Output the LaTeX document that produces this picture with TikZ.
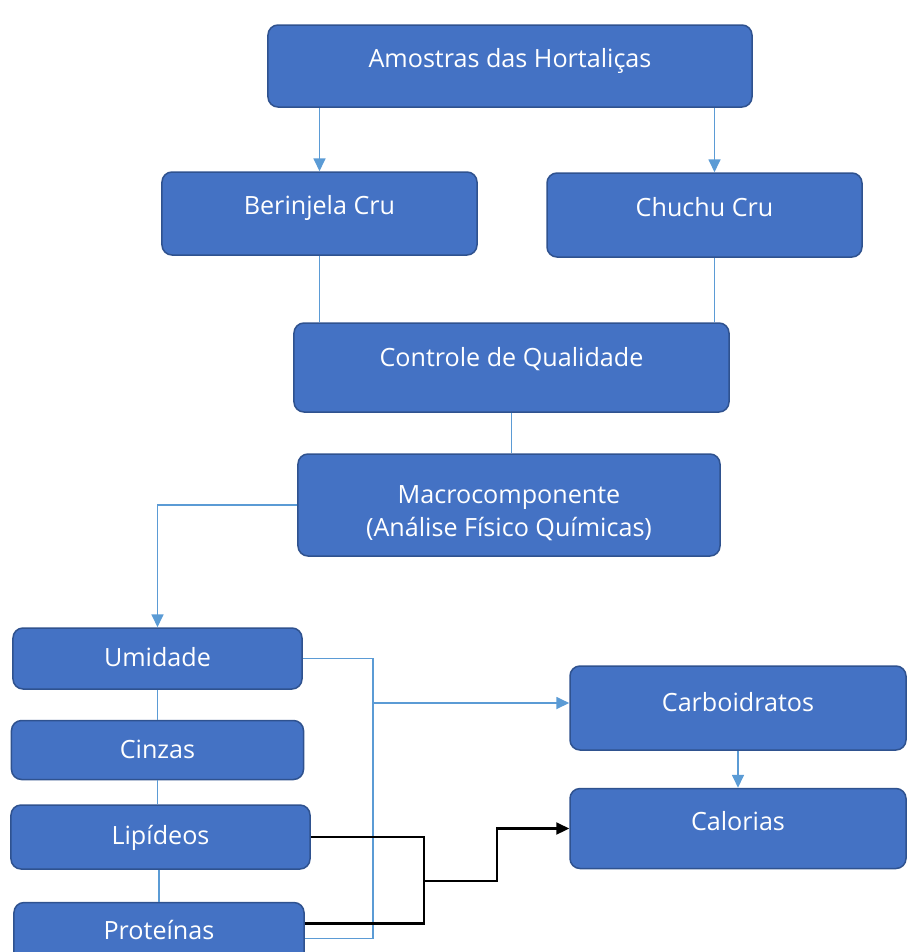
\documentclass[tikz,border=0pt]{standalone}
\usepackage{fontspec}
\setmainfont{Open Sans}
\usetikzlibrary{positioning, arrows.meta}
\definecolor{boxblue}{HTML}{4472C4}
\definecolor{boxline}{HTML}{2F528F}
\definecolor{linkblue}{HTML}{5B9BD5}

\begin{document}
\begin{tikzpicture}[x=0.2mm, y=-0.2mm,
     node distance = 6mm and 6mm,
                 > = {Triangle[length=2.6mm,width=2.4mm]},
        box/.style = {rectangle, rounded corners=2mm, draw=boxline, line width=0.3mm,
                      fill=boxblue, text=white, align=center,
                      font=\fontsize{14.3}{18.8}\selectfont},
       lift/.style = {text depth=#1},
       link/.style = {draw=linkblue, line width=0.35mm},
      blink/.style = {draw=black, line width=0.45mm}
                        ]
\useasboundingbox (0,0) rectangle (907,952);
% upper part
\node (amostras) [box, lift=3.4mm, minimum width=96.8mm, minimum height=16.4mm] at (510,66) {Amostras das Hortaliças};
\node (berinjela) [box, lift=3.4mm, minimum width=63mm, minimum height=16.6mm] at (319.5,213.5) {Berinjela Cru};
\node (chuchu) [box, lift=3.4mm, minimum width=63mm, minimum height=16.8mm] at (704.5,215) {Chuchu Cru};
\node (controle) [box, lift=4.2mm, minimum width=87mm, minimum height=17.8mm] at (511.5,367.5) {Controle de Qualidade};
\node (macro) [box, text height=13.6mm, minimum width=84.4mm, minimum height=20.4mm] at (509,505) {Macrocomponente\\(Análise Físico Químicas)};
% left column
\node (umidade) [box, lift=0.6mm, minimum width=57.8mm, minimum height=12.2mm] at (157.5,658.5) {Umidade};
\node (cinzas) [box, lift=0.4mm, minimum width=58.4mm, minimum height=11.8mm, below=6mm of umidade] {Cinzas};
\node (lipideos) [box, lift=1mm, minimum width=59.8mm, minimum height=12.8mm, below=4.8mm of cinzas, xshift=0.6mm] {Lipídeos};
\node (proteinas) [box, lift=1.4mm, minimum width=58mm, minimum height=12.4mm, below=6.4mm of lipideos, xshift=-0.3mm] {Proteínas};
% right column
\node (carboidratos) [box, lift=2.6mm, minimum width=67.2mm, minimum height=16.8mm] at (738,708) {Carboidratos};
\node (calorias) [box, lift=3mm, minimum width=67.2mm, minimum height=16mm, below=7.4mm of carboidratos] {Calorias};
\coordinate (cc) at ([xshift=2mm]chuchu.north);
\coordinate (split) at (373,703);
\coordinate (merge) at (424,881);
% connectors
\draw[link,->] (amostras.south -| berinjela.north) -- (berinjela.north);
\draw[link,->] (amostras.south -| cc) -- (cc);
\draw[link] (berinjela.south) -- (berinjela.south |- controle.north);
\draw[link] (cc |- chuchu.south) -- (cc |- controle.north);
\draw[link] (controle.south) -- (controle.south |- macro.north);
\draw[link,->] (macro.west) -| (umidade.north);
\draw[link] (cinzas.north) -- (cinzas.north |- umidade.south);
\draw[link] (cinzas.south) -- (cinzas.south |- lipideos.north);
\draw[link] (proteinas.north) -- (proteinas.north |- lipideos.south);
\draw[link] (umidade.east) -| (split) |- ([yshift=-1mm]proteinas.east);
\draw[link,->] (split) -- (split -| carboidratos.west);
\draw[link,->] (carboidratos) -- (calorias);
\draw[blink] (lipideos.east) -| (merge);
\draw[blink] ([yshift=2mm]proteinas.east) -| (merge);
\draw[blink,->] (merge) -- ++(73,0) |- (calorias.west);
\end{tikzpicture}
\end{document}
